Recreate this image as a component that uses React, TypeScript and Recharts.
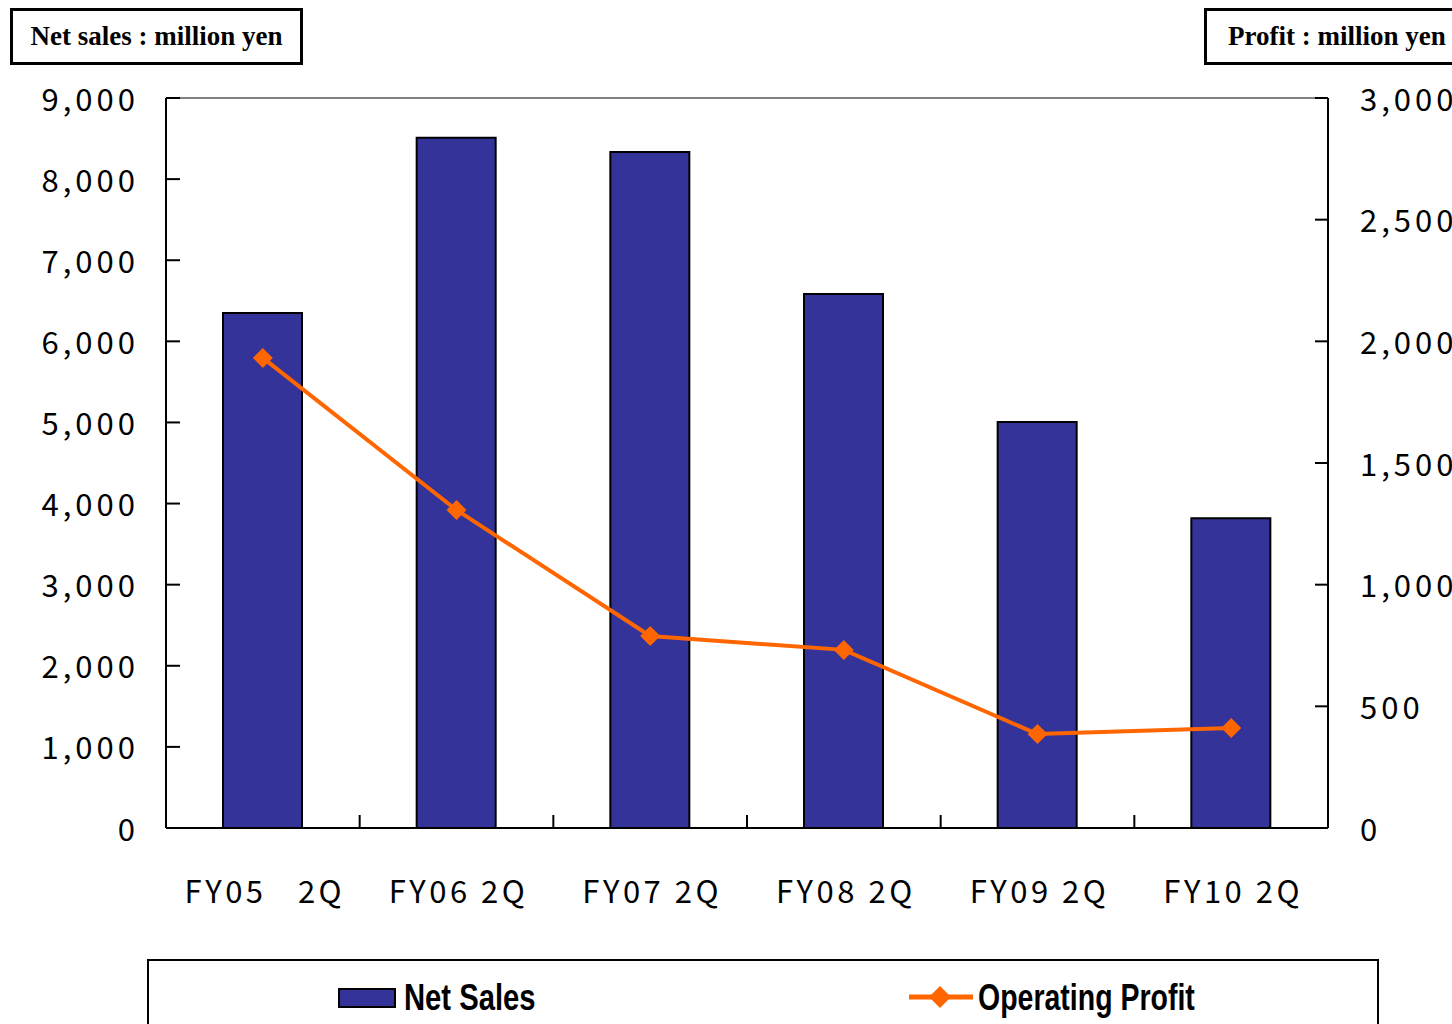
import { ComposedChart, Bar, Line, XAxis, YAxis, ReferenceLine } from 'recharts';

// values (million yen)
const periods = ['FY05   2Q', 'FY06 2Q', 'FY07 2Q', 'FY08 2Q', 'FY09 2Q', 'FY10 2Q'];
const netSales = [6350, 8510, 8335, 6585, 5005, 3820];
const operatingProfit = [1932, 1307, 789, 732, 386, 411];
const salesTicks = [0, 1000, 2000, 3000, 4000, 5000, 6000, 7000, 8000, 9000];
const profitTicks = [0, 500, 1000, 1500, 2000, 2500, 3000];

const data = periods.map((name, i) => ({ name, sales: netSales[i], profit: operatingProfit[i] }));

const W = 1452;
const H = 1024;
const PLOT_LEFT = 166;
const PLOT_RIGHT = 1328;
const BAND = (PLOT_RIGHT - PLOT_LEFT) / periods.length;

const BAR = '#333399';
const ORANGE = '#FF6600';
const tickFont = '"Noto Sans CJK JP", "DejaVu Sans", sans-serif';
const tickStyle = { fontFamily: tickFont, fontSize: 31, letterSpacing: 4, fill: '#000' };

const fmt = (v: number) => v.toLocaleString('en-US');

const LeftTick = (props: any) => {
  const { x, y, payload } = props;
  return (
    <g>
      <line x1={x} x2={x + 14} y1={y} y2={y} stroke="#000" strokeWidth={2} />
      <text x={x - 27} y={y - 1} textAnchor="end" dominantBaseline="central" style={tickStyle}>
        {fmt(payload.value)}
      </text>
    </g>
  );
};

// right labels run past the page edge, as in the original
const RightTick = (props: any) => {
  const { x, y, payload } = props;
  return (
    <g>
      <line x1={x} x2={x - 13} y1={y} y2={y} stroke="#000" strokeWidth={2} />
      <text x={x + 32} y={y - 1} textAnchor="start" dominantBaseline="central" style={tickStyle}>
        {fmt(payload.value)}
      </text>
    </g>
  );
};

const BottomTick = (props: any) => {
  const { x, y, payload, index } = props;
  return (
    <g>
      {index < periods.length - 1 && (
        <line x1={x + BAND / 2} x2={x + BAND / 2} y1={y} y2={y - 13} stroke="#000" strokeWidth={2} />
      )}
      <text x={x + 2} y={y + 61} textAnchor="middle" dominantBaseline="central"
        style={{ ...tickStyle, letterSpacing: 3.5, whiteSpace: 'pre' }}>
        {payload.value}
      </text>
    </g>
  );
};

const Diamond = (props: any) => {
  const { cx, cy } = props;
  if (cx == null || cy == null) return null;
  const r = 10;
  return <polygon points={`${cx},${cy - r} ${cx + r},${cy} ${cx},${cy + r} ${cx - r},${cy}`} fill={ORANGE} />;
};

const headerBox = {
  position: 'absolute' as const,
  top: 8,
  height: 51,
  border: '3px solid #000',
  background: '#fff',
  display: 'flex',
  alignItems: 'center',
  fontFamily: '"Liberation Serif", "Times New Roman", serif',
  fontWeight: 700,
  fontSize: 27,
  color: '#000',
  boxSizing: 'content-box' as const,
};

const legendText = {
  fontFamily: '"Liberation Sans", Arial, sans-serif',
  fontWeight: 700,
  fontSize: 37,
  color: '#000',
  lineHeight: '37px',
  transform: 'scaleX(0.79)',
  transformOrigin: 'left center',
  whiteSpace: 'nowrap' as const,
};

export default function App() {
  return (
    <div style={{ position: 'absolute', left: 0, top: 0, width: W, height: H, background: '#fff', overflow: 'hidden' }}>
      <ComposedChart width={W} height={H} data={data}
        margin={{ top: 98, right: 24, left: 66, bottom: 136 }} barSize={79}>
        <XAxis dataKey="name" xAxisId="x" height={60} tickSize={0} tickMargin={0}
          axisLine={{ stroke: '#000', strokeWidth: 2 }} tick={<BottomTick />} interval={0} />
        <YAxis yAxisId="left" orientation="left" width={100} domain={[0, 9000]} ticks={salesTicks}
          tickSize={0} tickMargin={0} axisLine={{ stroke: '#000', strokeWidth: 2 }} tick={<LeftTick />} interval={0} />
        <YAxis yAxisId="right" orientation="right" width={100} domain={[0, 3000]} ticks={profitTicks}
          tickSize={0} tickMargin={0} axisLine={{ stroke: '#000', strokeWidth: 2 }} tick={<RightTick />} interval={0} />
        <ReferenceLine yAxisId="left" xAxisId="x" y={9000} stroke="#808080" strokeWidth={2} />
        <Bar xAxisId="x" yAxisId="left" dataKey="sales" name="Net Sales" fill={BAR} stroke="#000" strokeWidth={2}
          isAnimationActive={false} />
        <Line xAxisId="x" yAxisId="right" dataKey="profit" name="Operating Profit" stroke={ORANGE} strokeWidth={4}
          dot={<Diamond />} activeDot={false} isAnimationActive={false} />
      </ComposedChart>

      <div style={{ ...headerBox, left: 10, width: 287, justifyContent: 'center' }}>Net sales : million yen</div>
      <div style={{ ...headerBox, left: 1204, width: 260, paddingLeft: 21 }}>Profit : million yen</div>

      <div style={{ position: 'absolute', left: 147, top: 959, width: 1228, height: 100, border: '2px solid #000', background: '#fff' }}>
        <div style={{ position: 'absolute', left: 189, top: 27, width: 54, height: 16, background: BAR, border: '2px solid #000' }} />
        <div style={{ ...legendText, position: 'absolute', left: 255, top: 18 }}>Net Sales</div>
        <svg style={{ position: 'absolute', left: 760, top: 22 }} width={64} height={28}>
          <line x1={0} x2={64} y1={14} y2={14} stroke={ORANGE} strokeWidth={5} />
          <polygon points="31,3 42,14 31,25 20,14" fill={ORANGE} />
        </svg>
        <div style={{ ...legendText, position: 'absolute', left: 829, top: 18, transform: 'scaleX(0.77)' }}>Operating Profit</div>
      </div>
    </div>
  );
}
